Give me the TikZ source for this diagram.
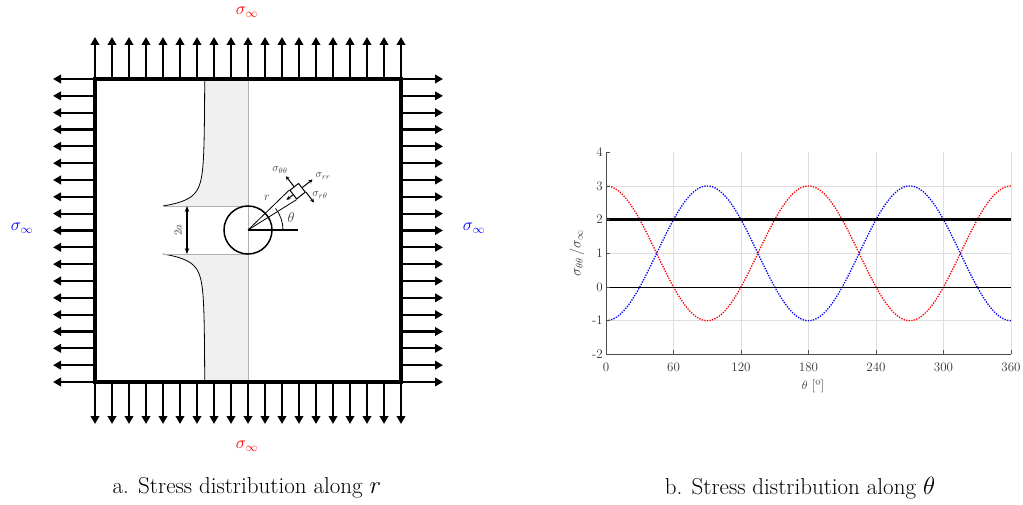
\documentclass[tikz,border=0pt]{standalone}
\usetikzlibrary{arrows.meta}

\begin{document}
\begin{tikzpicture}[
  x=1pt, y=-1pt,
  load/.style={line width=2.2pt, -{Triangle[length=8pt,width=8.5pt]}},
  redlbl/.style={text=red, font=\fontsize{18}{20}\selectfont},
  bluelbl/.style={text=blue, font=\fontsize{18}{20}\selectfont},
  smalllbl/.style={text=black!75, font=\fontsize{11}{13}\selectfont, inner sep=1pt},
  ticklbl/.style={text=black!80, font=\fontsize{13}{15}\selectfont, inner sep=1pt},
  caption/.style={font=\fontsize{23}{26}\selectfont},
  gridline/.style={gray!25, line width=0.8pt},
  comp/.style={line width=1pt, -{Stealth[length=4pt,width=4pt]}},
]
\useasboundingbox (0,0) rectangle (1023,505);

% shaded stress profile along r
\fill[gray!12] plot[domain=151:24, samples=90] ({226-21*(1+0.5*(24/\x)^2+1.5*(24/\x)^4)}, {230-\x}) -- (248,206) -- (248,79) -- cycle;
\fill[gray!12] plot[domain=152:24, samples=90] ({226-21*(1+0.5*(24/\x)^2+1.5*(24/\x)^4)}, {230+\x}) -- (248,254) -- (248,382) -- cycle;
\draw[line width=0.8pt] plot[domain=151:24, samples=90] ({226-21*(1+0.5*(24/\x)^2+1.5*(24/\x)^4)}, {230-\x});
\draw[line width=0.8pt] plot[domain=152:24, samples=90] ({226-21*(1+0.5*(24/\x)^2+1.5*(24/\x)^4)}, {230+\x});
\draw[gray!60, line width=0.8pt] (163,206) -- (248,206) (163,254) -- (248,254) (248,79) -- (248,382);

% plate and far-field loads
\node[draw, line width=4pt, minimum width=306pt, minimum height=303pt, inner sep=0pt] (plate) at (248,230.5) {};
\foreach \i in {0,...,18} {
  \draw[load] (95+17*\i,79) -- ++(0,-42);
  \draw[load] (95+17*\i,382) -- ++(0,42);
  \draw[load] (95,79+16.833*\i) -- ++(-42,0);
  \draw[load] (401,79+16.833*\i) -- ++(42,0);
}
\node[redlbl]  (stop)   at (247,12)  {$\sigma_\infty$};
\node[redlbl]  (sbot)   at (247,446) {$\sigma_\infty$};
\node[bluelbl] (sleft)  at (22,228)  {$\sigma_\infty$};
\node[bluelbl] (sright) at (474,228) {$\sigma_\infty$};

% hole, dimension and element
\node[circle, draw, line width=1.5pt, minimum size=48pt, inner sep=0pt] (hole) at (248,230) {};
\coordinate (dtop) at (187,206);
\coordinate (dbot) at (187,254);
\draw[{Stealth[length=6pt]}-{Stealth[length=6pt]}, line width=1.2pt] (dtop) -- (dbot);
\node[smalllbl, rotate=90] (dim) at (178,230) {$2a$};

\coordinate (ref) at (298,230);
\draw[line width=1.2pt] (hole.center) -- (ref);
\draw[line width=0.8pt] (283,230) arc[start angle=0, end angle=-38, radius=35];
\node[smalllbl, font=\fontsize{14}{15}\selectfont] (th) at (291,218) {$\theta$};

\node[draw, fill=white, line width=1pt, minimum size=11pt, inner sep=0pt, rotate=38] (elem) at (297.6,191.2) {};
\draw[line width=0.8pt] (hole.center) -- (elem.south west);
\draw[line width=0.8pt] (hole.center) -- (elem.north west);
\draw[comp] (elem.east) -- ++(-38:13);
\draw[comp] (elem.north) -- ++(-128:13);
\draw[comp] (elem.south east) -- ++(52:13);
\draw[comp] (elem.west) -- ++(142:8);
\node[smalllbl] (sthth) at (280,170) {$\sigma_{\theta\theta}$};
\node[smalllbl] (srr)   at (323,176) {$\sigma_{rr}$};
\node[smalllbl] (srth)  at (320,195) {$\sigma_{r\theta}$};
\node[smalllbl, font=\fontsize{13}{15}\selectfont] (rlbl) at (267,198) {$r$};

% hoop stress around the hole
\foreach \k in {1,...,6} \draw[gridline] (606+67.5*\k,152) -- (606+67.5*\k,354);
\foreach \v in {-1,...,3} \draw[gridline] (606,287-33.67*\v) -- (1011,287-33.67*\v);
\draw[red, line width=1.3pt, dash pattern=on 1.3pt off 1.3pt] plot[domain=0:360, samples=241] ({606+1.125*\x}, {287-33.67*(1+2*cos(2*\x))});
\draw[blue, line width=1.3pt, dash pattern=on 1.3pt off 1.3pt] plot[domain=0:360, samples=241] ({606+1.125*\x}, {287-33.67*(1-2*cos(2*\x))});
\draw[line width=2.5pt] (606,219.66) -- (1011,219.66);
\draw[line width=1pt] (606,287) -- (1011,287);
\draw[black!70, line width=1pt] (606,152) -- (606,354) -- (1011,354);
\foreach \v in {-2,...,4} {
  \draw[black!70, line width=0.8pt] (606,287-33.67*\v) -- ++(4,0);
  \node[ticklbl, anchor=east] (yt\v) at (604,287-33.67*\v) {\v};
}
\foreach \t in {0,60,...,360} {
  \draw[black!70, line width=0.8pt] (606+1.125*\t,354) -- ++(0,-4);
  \node[ticklbl] (xt\t) at (606+1.125*\t,367) {\t};
}
\node[ticklbl, rotate=90, font=\fontsize{14}{16}\selectfont] (ylab) at (577,253) {$\sigma_{\theta\theta}\,/\sigma_\infty$};
\node[ticklbl] (xlab) at (813,386) {$\theta$ [º]};

\node[caption] (capa) at (247,488) {a. Stress distribution along $r$};
\node[caption] (capb) at (800,488) {b. Stress distribution along $\theta$};
\end{tikzpicture}
\end{document}
